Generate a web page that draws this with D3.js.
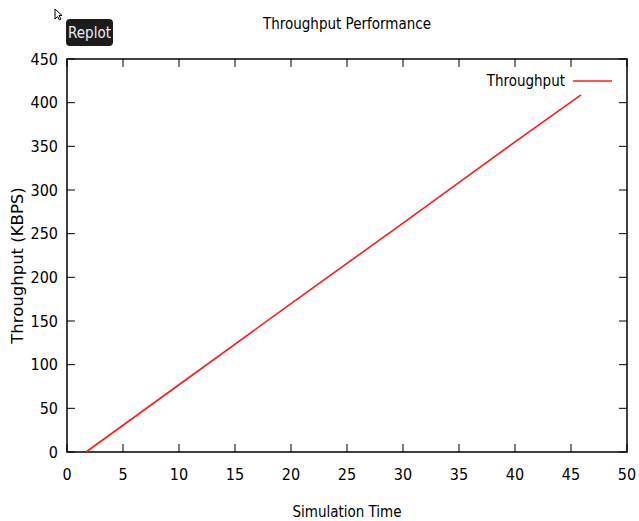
<!DOCTYPE html>
<html>
<head>
<meta charset="utf-8">
<script src="https://cdn.jsdelivr.net/npm/d3@7"></script>
<style>
  body { margin: 0; background: #fff; }
  .cond { font-family: "DejaVu Sans Condensed", "DejaVu Sans", sans-serif; font-stretch: condensed; }
</style>
</head>
<body>
<div id="chart"></div>
<script>
var simTime = [1.7, 10, 20, 30, 40, 45.9];
var throughput = [0, 77, 170, 262, 355, 409];
var xTicks = [0, 5, 10, 15, 20, 25, 30, 35, 40, 45, 50];
var yTicks = [0, 50, 100, 150, 200, 250, 300, 350, 400, 450];

var width = 639, height = 521;
var margin = { top: 59, right: 12, bottom: 69, left: 67 };

var svg = d3.select("#chart").append("svg")
  .attr("width", width)
  .attr("height", height);

var x = d3.scaleLinear().domain([0, 50]).range([margin.left, width - margin.right]);
var y = d3.scaleLinear().domain([0, 450]).range([height - margin.bottom, margin.top]);

// frame
svg.append("rect")
  .attr("x", x(0))
  .attr("y", y(450))
  .attr("width", x(50) - x(0))
  .attr("height", y(0) - y(450))
  .attr("fill", "none")
  .attr("stroke", "#111")
  .attr("stroke-width", 1.6);

// inward ticks, mirrored on top and right
var tickLen = 8;
xTicks.forEach(function (t) {
  svg.append("line").attr("x1", x(t)).attr("x2", x(t))
    .attr("y1", y(0)).attr("y2", y(0) - tickLen).attr("stroke", "#000");
  svg.append("line").attr("x1", x(t)).attr("x2", x(t))
    .attr("y1", y(450)).attr("y2", y(450) + tickLen).attr("stroke", "#000");
});
yTicks.forEach(function (t) {
  svg.append("line").attr("x1", x(0)).attr("x2", x(0) + tickLen)
    .attr("y1", y(t)).attr("y2", y(t)).attr("stroke", "#000");
  svg.append("line").attr("x1", x(50)).attr("x2", x(50) - tickLen)
    .attr("y1", y(t)).attr("y2", y(t)).attr("stroke", "#000");
});

svg.selectAll(".xlab")
  .data(xTicks)
  .enter()
  .append("text")
  .attr("class", "cond")
  .attr("x", function (d) { return x(d); })
  .attr("y", y(0) + 28)
  .attr("text-anchor", "middle")
  .style("font-size", "16px")
  .text(function (d) { return d; });

svg.selectAll(".ylab")
  .data(yTicks)
  .enter()
  .append("text")
  .attr("class", "cond")
  .attr("x", x(0) - 9)
  .attr("y", function (d) { return y(d); })
  .attr("dy", "0.36em")
  .attr("text-anchor", "end")
  .style("font-size", "16px")
  .text(function (d) { return d; });

// titles
svg.append("text")
  .attr("class", "cond")
  .attr("x", 347)
  .attr("y", 29)
  .attr("text-anchor", "middle")
  .style("font-size", "15px")
  .text("Throughput Performance");

svg.append("text")
  .attr("class", "cond")
  .attr("x", 347)
  .attr("y", 517)
  .attr("text-anchor", "middle")
  .style("font-size", "15px")
  .text("Simulation Time");

svg.append("text")
  .attr("transform", "translate(23," + ((y(0) + y(450)) / 2 + 10) + ") rotate(-90)")
  .attr("text-anchor", "middle")
  .style("font-family", "DejaVu Sans, sans-serif")
  .style("font-size", "16.5px")
  .text("Throughput (KBPS)");

// data line
var line = d3.line()
  .x(function (d, i) { return x(simTime[i]); })
  .y(function (d) { return y(d); });

svg.append("path")
  .datum(throughput)
  .attr("d", line)
  .attr("fill", "none")
  .attr("stroke", "#ff1a1a")
  .attr("stroke-width", 1.6);

// legend
svg.append("text")
  .attr("class", "cond")
  .attr("x", 565)
  .attr("y", 81)
  .attr("dy", "0.36em")
  .attr("text-anchor", "end")
  .style("font-size", "15px")
  .text("Throughput");

svg.append("line")
  .attr("x1", 573).attr("x2", 612)
  .attr("y1", 81).attr("y2", 81)
  .attr("stroke", "#ff1a1a")
  .attr("stroke-width", 1.6);

// replot button
svg.append("rect")
  .attr("x", 66).attr("y", 19)
  .attr("width", 47).attr("height", 27)
  .attr("rx", 4)
  .attr("fill", "#1c1c1c");

svg.append("text")
  .attr("class", "cond")
  .attr("x", 89.5)
  .attr("y", 33)
  .attr("dy", "0.36em")
  .attr("text-anchor", "middle")
  .style("font-size", "15px")
  .attr("fill", "#e8eef6")
  .text("Replot");

// small cursor glyph
svg.append("path")
  .attr("d", "M55,9 L55,19 L57.5,16.5 L59.5,20 L61,19 L59,15.5 L62,15.5 Z")
  .attr("fill", "#fff")
  .attr("stroke", "#000")
  .attr("stroke-width", 1);
</script>
</body>
</html>
